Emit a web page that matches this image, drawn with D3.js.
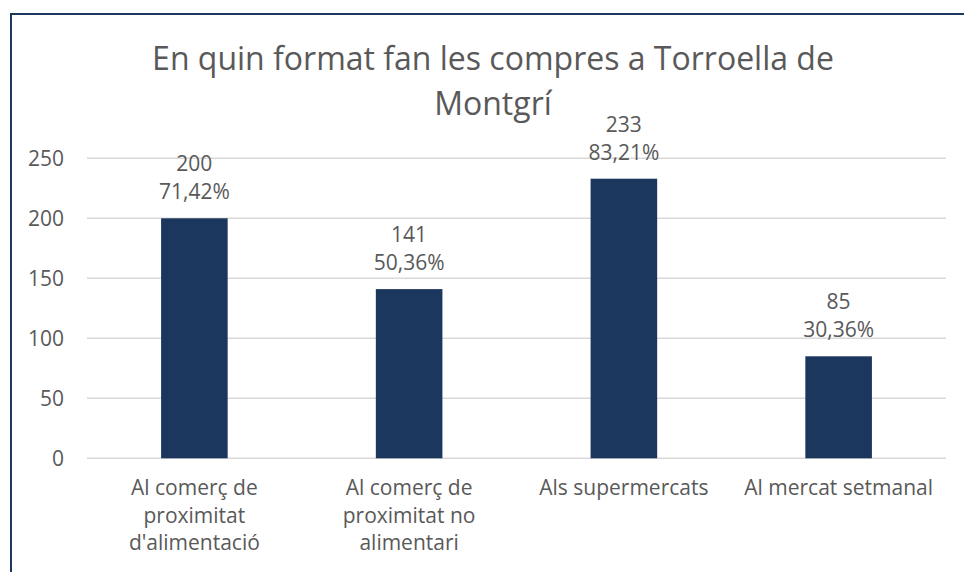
<!DOCTYPE html>
<html>
<head>
<meta charset="utf-8">
<script src="https://cdn.jsdelivr.net/npm/d3@7/dist/d3.min.js"></script>
<style>
  html, body { margin: 0; padding: 0; background: #fff; }
  svg { display: block; }
  text { font-family: "Open Sans", sans-serif; fill: #595959; }
</style>
</head>
<body>
<svg id="chart" width="964" height="572"></svg>
<script>
const title = ["En quin format fan les compres a Torroella de", "Montgrí"];
const categories = ["Al comerç de proximitat d'alimentació", "Al comerç de proximitat no alimentari", "Als supermercats", "Al mercat setmanal"];
const counts = [200, 141, 233, 85];
const percents = ["71,42%", "50,36%", "83,21%", "30,36%"];
const yTicks = [0, 50, 100, 150, 200, 250];

const svg = d3.select("#chart");
const W = 964, H = 572;
const navy = "#1b375e";

svg.append("rect").attr("x", 0).attr("y", 0).attr("width", W).attr("height", H).attr("fill", "#fff");

// frame (top and left edges visible)
svg.append("path")
  .attr("d", `M11,${H} L11,14 L${W},14`)
  .attr("fill", "none").attr("stroke", navy).attr("stroke-width", 2);

const plotLeft = 87, plotRight = 946, plotTop = 158.3, plotBottom = 458.3;

const x = d3.scaleBand().domain(categories).range([plotLeft, plotRight])
  .paddingInner(0.69).paddingOuter(0.345);
const y = d3.scaleLinear().domain([0, 250]).range([plotBottom, plotTop]);

// gridlines
svg.append("g").selectAll("line").data(yTicks).join("line")
  .attr("x1", plotLeft).attr("x2", plotRight)
  .attr("y1", d => y(d)).attr("y2", d => y(d))
  .attr("stroke", "#d9d9d9").attr("stroke-width", 1.5);

// y axis labels
const yAxis = d3.axisLeft(y).tickValues(yTicks).tickSize(0).tickPadding(0);
const yg = svg.append("g").attr("transform", `translate(64,0)`).call(yAxis);
yg.select(".domain").remove();
yg.selectAll("text").attr("font-size", 21).attr("fill", "#595959")
  .style("font-family", "'Open Sans', sans-serif").attr("dy", "0.36em");

// bars
svg.append("g").selectAll("rect").data(categories).join("rect")
  .attr("x", d => x(d))
  .attr("width", x.bandwidth())
  .attr("y", (d, i) => y(counts[i]))
  .attr("height", (d, i) => y(0) - y(counts[i]))
  .attr("fill", navy);

// data labels
const lbl = svg.append("g").selectAll("text").data(categories).join("text")
  .attr("text-anchor", "middle").attr("font-size", 21);
lbl.append("tspan")
  .attr("x", d => x(d) + x.bandwidth() / 2)
  .attr("y", (d, i) => y(counts[i]) - 47)
  .text((d, i) => counts[i]);
lbl.append("tspan")
  .attr("x", d => x(d) + x.bandwidth() / 2)
  .attr("y", (d, i) => y(counts[i]) - 19)
  .text((d, i) => percents[i]);

// category labels with wrapping
const xg = svg.append("g");
categories.forEach(c => {
  const cx = x(c) + x.bandwidth() / 2;
  const t = xg.append("text").attr("text-anchor", "middle").attr("font-size", 21);
  const words = c.split(" ");
  let lines = [], line = [];
  const probe = xg.append("text").attr("font-size", 21);
  words.forEach(w => {
    const test = line.concat([w]).join(" ");
    probe.text(test);
    if (probe.node().getComputedTextLength() > 205 && line.length) {
      lines.push(line.join(" "));
      line = [w];
    } else line.push(w);
  });
  lines.push(line.join(" "));
  probe.remove();
  lines.forEach((l, k) => {
    t.append("tspan").attr("x", cx).attr("y", 495 + k * 27.5).text(l);
  });
});

// title
const tt = svg.append("text").attr("text-anchor", "middle").attr("font-size", 32);
title.forEach((l, k) => {
  tt.append("tspan").attr("x", 493).attr("y", 70 + k * 45).text(l);
});
</script>
</body>
</html>
